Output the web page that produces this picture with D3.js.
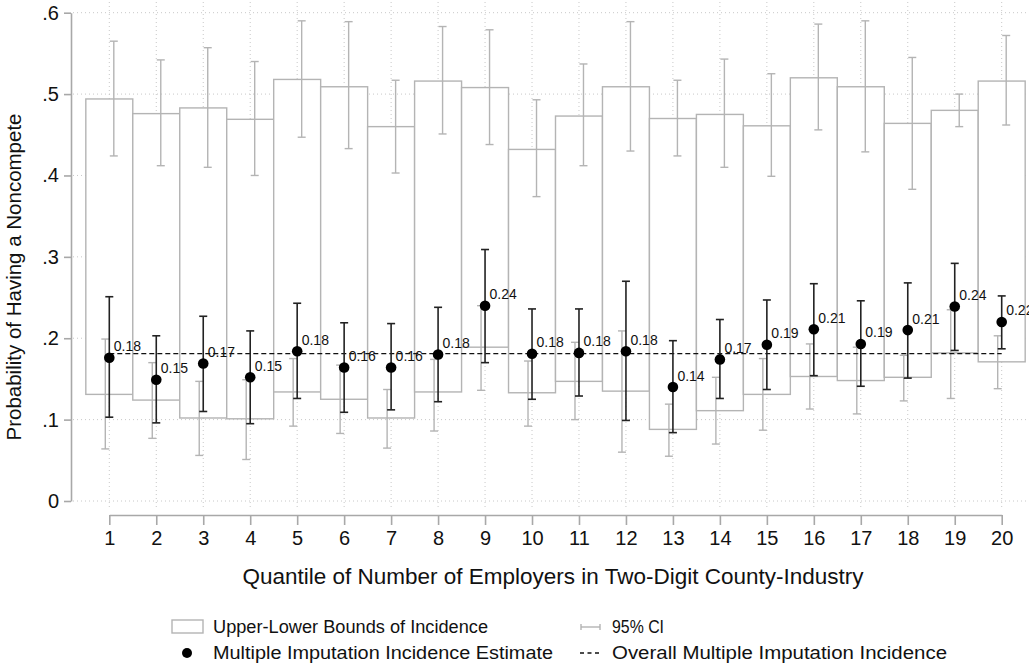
<!DOCTYPE html>
<html>
<head>
<meta charset="utf-8">
<script src="https://cdn.jsdelivr.net/npm/d3@7"></script>
<style>
  body { margin: 0; background: #fff; }
  svg { display: block; font-family: "Liberation Sans", Arial, Helvetica, sans-serif; }
</style>
</head>
<body>
<svg id="chart" width="1029" height="669"></svg>
<script>
// Quantiles of number of employers (two-digit county-industry)
const quantiles = d3.range(1, 21);

// Upper bound of incidence and its 95% CI
const upperBound  = [0.494,0.476,0.483,0.469,0.518,0.509,0.460,0.516,0.508,0.432,0.473,0.509,0.470,0.475,0.461,0.520,0.509,0.464,0.480,0.516];
const upperCiHigh = [0.565,0.542,0.557,0.540,0.590,0.589,0.517,0.583,0.579,0.493,0.537,0.589,0.517,0.543,0.525,0.586,0.590,0.545,0.500,0.572];
const upperCiLow  = [0.424,0.412,0.410,0.400,0.447,0.433,0.403,0.451,0.438,0.374,0.412,0.430,0.424,0.410,0.399,0.456,0.429,0.383,0.460,0.462];

// Lower bound of incidence and its 95% CI
const lowerBound  = [0.131,0.124,0.102,0.101,0.134,0.125,0.102,0.134,0.189,0.133,0.147,0.135,0.088,0.111,0.131,0.153,0.148,0.152,0.182,0.171];
const lowerCiHigh = [0.199,0.170,0.147,0.149,0.175,0.167,0.137,0.174,0.240,0.172,0.195,0.209,0.119,0.152,0.175,0.193,0.189,0.179,0.235,0.203];
const lowerCiLow  = [0.064,0.077,0.056,0.051,0.092,0.083,0.065,0.086,0.136,0.092,0.100,0.060,0.055,0.070,0.087,0.113,0.107,0.123,0.126,0.138];

// Multiple imputation incidence estimate and its 95% CI
const estimate    = [0.176,0.149,0.169,0.152,0.184,0.164,0.164,0.180,0.240,0.181,0.182,0.184,0.140,0.174,0.192,0.211,0.193,0.210,0.239,0.220];
const estCiHigh   = [0.251,0.203,0.227,0.209,0.243,0.219,0.218,0.238,0.309,0.236,0.236,0.270,0.197,0.223,0.247,0.267,0.246,0.268,0.292,0.252];
const estCiLow    = [0.103,0.096,0.110,0.095,0.126,0.109,0.112,0.122,0.170,0.125,0.129,0.099,0.084,0.126,0.137,0.154,0.141,0.151,0.185,0.187];

// Overall multiple imputation incidence
const overallEstimate = 0.181;

const yTicks = [0, 0.1, 0.2, 0.3, 0.4, 0.5, 0.6];
const yTickLabels = ["0", ".1", ".2", ".3", ".4", ".5", ".6"];

const legendItems = [
  "Upper-Lower Bounds of Incidence",
  "95% CI",
  "Multiple Imputation Incidence Estimate",
  "Overall Multiple Imputation Incidence"
];

const rows = quantiles.map((q, i) => ({
  q,
  ub: upperBound[i], ubHi: upperCiHigh[i], ubLo: upperCiLow[i],
  lb: lowerBound[i], lbHi: lowerCiHigh[i], lbLo: lowerCiLow[i],
  est: estimate[i], estHi: estCiHigh[i], estLo: estCiLow[i]
}));

const svg = d3.select("#chart");
const grey = "#b4b4b4";
const axisGrey = "#a8a8a8";
const ink = "#111";

const x = d3.scaleLinear().domain([1, 20]).range([109.3, 1001.7]);
const step = x(2) - x(1);
const y = d3.scaleLinear().domain([0, 0.6]).range([501, 12.7]);

// Grid
const grid = svg.append("g").attr("stroke", "#c8c8c8").attr("stroke-width", 1).attr("stroke-dasharray", "1,3");
grid.selectAll("line.h").data(yTicks).join("line").attr("class", "h")
  .attr("x1", 73).attr("x2", 1029).attr("y1", d => y(d)).attr("y2", d => y(d));
grid.selectAll("line.v").data(quantiles).join("line").attr("class", "v")
  .attr("x1", d => x(d)).attr("x2", d => x(d)).attr("y1", 2).attr("y2", 507);

// Bounds boxes
svg.append("g").selectAll("rect").data(rows).join("rect")
  .attr("x", d => x(d.q) - step / 2)
  .attr("width", step)
  .attr("y", d => y(d.ub))
  .attr("height", d => y(d.lb) - y(d.ub))
  .attr("fill", "#fff")
  .attr("stroke", grey).attr("stroke-width", 1.4);

// CI whiskers: stem plus caps
function whiskers(g, data, cx, hi, lo, color, cap, width) {
  const w = g.append("g").attr("stroke", color).attr("stroke-width", width);
  w.selectAll("line.s").data(data).join("line").attr("class", "s")
    .attr("x1", cx).attr("x2", cx).attr("y1", d => y(hi(d))).attr("y2", d => y(lo(d)));
  w.selectAll("line.t").data(data).join("line").attr("class", "t")
    .attr("x1", d => cx(d) - cap).attr("x2", d => cx(d) + cap).attr("y1", d => y(hi(d))).attr("y2", d => y(hi(d)));
  w.selectAll("line.b").data(data).join("line").attr("class", "b")
    .attr("x1", d => cx(d) - cap).attr("x2", d => cx(d) + cap).attr("y1", d => y(lo(d))).attr("y2", d => y(lo(d)));
}
whiskers(svg, rows, d => x(d.q) + 4.5, d => d.ubHi, d => d.ubLo, grey, 4, 1.4);
whiskers(svg, rows, d => x(d.q) - 4, d => d.lbHi, d => d.lbLo, grey, 4, 1.4);

// Overall incidence reference line
svg.append("line")
  .attr("x1", x(1)).attr("x2", x(20))
  .attr("y1", y(overallEstimate)).attr("y2", y(overallEstimate))
  .attr("stroke", ink).attr("stroke-width", 1.3).attr("stroke-dasharray", "5,3");

// Estimate CI and points
whiskers(svg, rows, d => x(d.q), d => d.estHi, d => d.estLo, "#222", 4, 1.6);
svg.append("g").selectAll("circle").data(rows).join("circle")
  .attr("cx", d => x(d.q)).attr("cy", d => y(d.est)).attr("r", 5.3).attr("fill", "#000");
svg.append("g").selectAll("text").data(rows).join("text")
  .attr("x", d => x(d.q) + 4.5).attr("y", d => y(d.est) - 6.5)
  .attr("font-size", 14).attr("fill", ink)
  .text(d => d3.format(".2f")(d.est));

// Y axis
const yAxis = svg.append("g").attr("transform", "translate(71,0)")
  .call(d3.axisLeft(y).tickValues(yTicks).tickSize(7).tickSizeOuter(0).tickPadding(5)
    .tickFormat((d, i) => yTickLabels[i]));
yAxis.selectAll("path, line").attr("stroke", axisGrey).attr("stroke-width", 1.6);
yAxis.selectAll("text").attr("font-size", 20).attr("fill", ink).attr("font-family", "Liberation Sans, Arial, sans-serif");

// X axis
const xAxis = svg.append("g").attr("transform", "translate(0,515)")
  .call(d3.axisBottom(x).tickValues(quantiles).tickSize(10).tickSizeOuter(0).tickPadding(6).tickFormat(d3.format("d")));
xAxis.selectAll("path, line").attr("stroke", axisGrey).attr("stroke-width", 1.6);
xAxis.selectAll("text").attr("font-size", 20).attr("fill", ink).attr("font-family", "Liberation Sans, Arial, sans-serif");

// Axis titles
svg.append("text")
  .attr("transform", "translate(21,277) rotate(-90)")
  .attr("text-anchor", "middle").attr("font-size", 20.5).attr("fill", ink)
  .text("Probability of Having a Noncompete");
svg.append("text")
  .attr("x", 553).attr("y", 584)
  .attr("text-anchor", "middle").attr("font-size", 22.5).attr("fill", ink)
  .text("Quantile of Number of Employers in Two-Digit County-Industry");

// Legend
const lg = svg.append("g");
lg.append("rect").attr("x", 172).attr("y", 620).attr("width", 31).attr("height", 13)
  .attr("fill", "#fff").attr("stroke", grey).attr("stroke-width", 1.4);
lg.append("circle").attr("cx", 187).attr("cy", 653).attr("r", 5).attr("fill", "#000");
const ci = lg.append("g").attr("stroke", grey).attr("stroke-width", 1.4);
ci.append("line").attr("x1", 581).attr("x2", 600).attr("y1", 627).attr("y2", 627);
ci.append("line").attr("x1", 581).attr("x2", 581).attr("y1", 624).attr("y2", 630);
ci.append("line").attr("x1", 600).attr("x2", 600).attr("y1", 624).attr("y2", 630);
lg.append("line").attr("x1", 580).attr("x2", 601).attr("y1", 653).attr("y2", 653)
  .attr("stroke", ink).attr("stroke-width", 1.3).attr("stroke-dasharray", "4,3.5");
const legendPos = [[213, 633], [612, 633], [213, 659], [612, 659]];
const legendWidths = [275, 52, 340, 335];
lg.selectAll("text").data(legendItems).join("text")
  .attr("x", (d, i) => legendPos[i][0]).attr("y", (d, i) => legendPos[i][1])
  .attr("font-size", 17.5).attr("fill", ink)
  .attr("textLength", (d, i) => legendWidths[i]).attr("lengthAdjust", "spacingAndGlyphs")
  .text(d => d);
</script>
</body>
</html>
